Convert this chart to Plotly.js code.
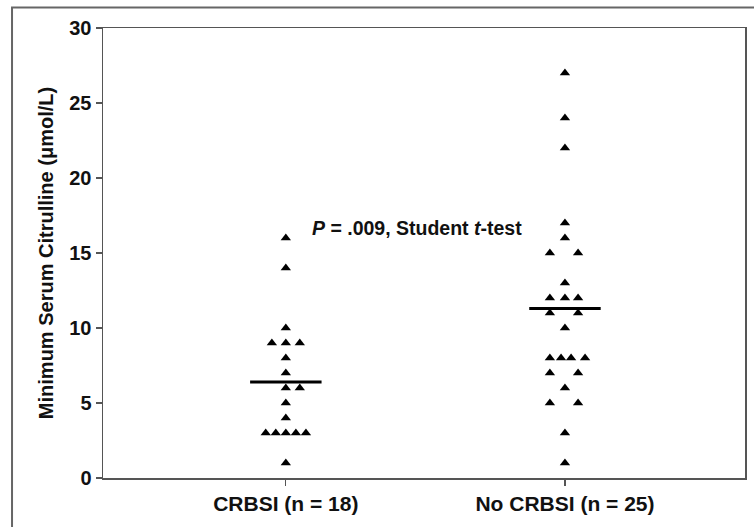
<!DOCTYPE html>
<html>
<head>
<meta charset="utf-8">
<script src="https://cdn.plot.ly/plotly-3.0.1.min.js"></script>
<style>html,body{margin:0;padding:0;background:#fff;}#chart{width:754px;height:527px;}</style>
</head>
<body>
<div id="chart"></div>
<script>
// Categories and tick labels
var groupPos = [1, 2];
var groupLabels = ['CRBSI (n = 18)', 'No CRBSI (n = 25)'];

// Individual values (µmol/L)
var crbsiValues = [16, 14, 10, 9, 9, 9, 8, 7, 6, 6, 5, 4, 3, 3, 3, 3, 3, 1];
// horizontal spread of the plotted symbols (group units)
var crbsiSpread = [0, 0, 0, -0.05, 0, 0.05, 0, 0, 0, 0.05, 0, 0, -0.072, -0.036, 0, 0.036, 0.072, 0];

var noCrbsiValues = [27, 24, 22, 17, 16, 15, 15, 13, 12, 12, 12, 11, 11, 10, 8, 8, 8, 8, 7, 7, 6, 5, 5, 3, 1];
var noCrbsiSpread = [0, 0, 0, 0, 0, -0.054, 0.047, 0, -0.054, 0, 0.047, -0.054, 0.047, 0, -0.054, -0.014, 0.022, 0.072, -0.054, 0.047, 0, -0.054, 0.047, 0, 0];

// Group means (horizontal bars)
var groupMeans = [6.4, 11.3];

var yTicks = [0, 5, 10, 15, 20, 25, 30];

var FONT = 'Liberation Sans, Arial, Helvetica, sans-serif';

function xs(center, spread) { return spread.map(function (d) { return center + d; }); }

var markerStyle = {symbol: 'triangle-up', size: 9, color: '#000', line: {width: 0}};

var traces = [
  {x: xs(groupPos[0], crbsiSpread), y: crbsiValues, type: 'scatter', mode: 'markers', marker: markerStyle, hoverinfo: 'y'},
  {x: xs(groupPos[1], noCrbsiSpread), y: noCrbsiValues, type: 'scatter', mode: 'markers', marker: markerStyle, hoverinfo: 'y'}
];
var halfBar = 0.128;
groupPos.forEach(function (p, i) {
  traces.push({x: [p - halfBar, p + halfBar], y: [groupMeans[i], groupMeans[i]], type: 'scatter', mode: 'lines',
    line: {color: '#000', width: 3}, hoverinfo: 'skip'});
});

var axisColor = '#555';
var layout = {
  width: 754, height: 527,
  margin: {l: 103, r: 9, t: 28, b: 49},
  paper_bgcolor: '#fff', plot_bgcolor: '#fff',
  showlegend: false,
  font: {family: FONT, color: '#111'},
  xaxis: {
    range: [0.345, 2.645], tickvals: groupPos, ticktext: groupLabels,
    showgrid: false, zeroline: false, showline: true, mirror: true,
    linecolor: axisColor, linewidth: 1.5, ticks: 'outside', ticklen: 6, tickcolor: axisColor, tickwidth: 1.2,
    tickfont: {family: FONT, size: 21, weight: 'bold', color: '#111'}
  },
  yaxis: {
    range: [0, 30], tickvals: yTicks,
    showgrid: false, zeroline: false, showline: true, mirror: true,
    linecolor: axisColor, linewidth: 1.5, ticks: 'outside', ticklen: 6, tickcolor: axisColor, tickwidth: 1.2,
    tickfont: {family: FONT, size: 20, weight: 'bold', color: '#111'},
    title: {text: 'Minimum Serum Citrulline (μmol/L)', font: {family: FONT, size: 20, weight: 'bold', color: '#111'}, standoff: 10}
  },
  annotations: [{
    x: 1.47, y: 16.7, xref: 'x', yref: 'y', showarrow: false,
    text: '<i>P</i> = .009, Student <i>t</i>-test',
    font: {family: FONT, size: 19.5, weight: 'bold', color: '#111'}
  }],
  shapes: [{
    type: 'rect', xref: 'paper', yref: 'paper',
    x0: -0.1417, x1: 1.06, y0: -0.2, y1: 1.0456,
    line: {color: '#666', width: 2}, layer: 'below'
  }]
};

Plotly.newPlot('chart', traces, layout, {displayModeBar: false, staticPlot: true});
</script>
</body>
</html>
